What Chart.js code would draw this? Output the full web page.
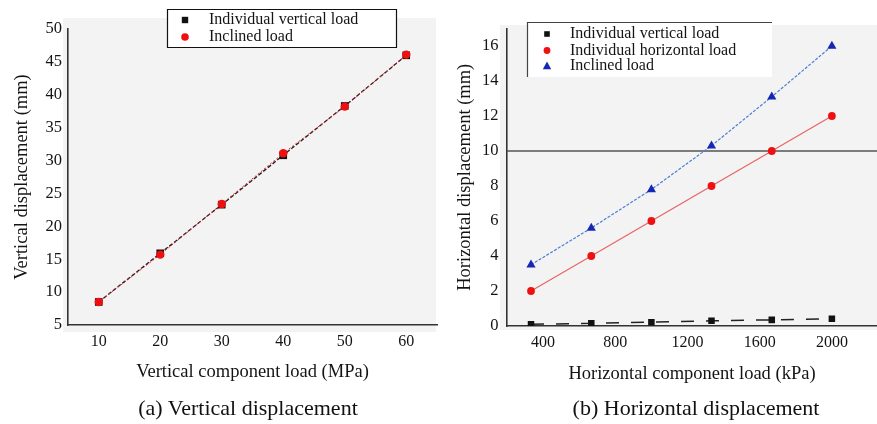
<!DOCTYPE html>
<html>
<head>
<meta charset="utf-8">
<script src="https://cdn.jsdelivr.net/npm/chart.js@4.4.1/dist/chart.umd.min.js"></script>
<style>
  html, body { margin: 0; padding: 0; background: #fff; }
  #wrap { position: relative; width: 877px; height: 424px; overflow: hidden; font-family: 'Liberation Serif', 'Times New Roman', serif; }
  canvas { position: absolute; top: 0; }
  #cA { left: 0; }
  #cB { left: 440px; }
  .cap { position: absolute; top: 395px; width: 300px; line-height: 26px; font-size: 22px; color: #111; text-align: center; white-space: nowrap; }
</style>
</head>
<body>
<div id="wrap">
  <canvas id="cA" width="440" height="424"></canvas>
  <canvas id="cB" width="437" height="424"></canvas>
  <div class="cap" style="left:98px">(a) Vertical displacement</div>
  <div class="cap" style="left:546px">(b) Horizontal displacement</div>
</div>
<script>
// ---- (a) vertical displacement vs vertical component load ----
const loadA        = [10, 20, 30, 40, 50, 60];            // MPa
const vertOnlyA    = [8.5, 15.9, 23.3, 30.8, 38.3, 46.0]; // mm
const inclinedA    = [8.5, 15.7, 23.4, 31.1, 38.2, 46.1]; // mm
const xTicksA      = [10, 20, 30, 40, 50, 60];
const yTicksA      = [5, 10, 15, 20, 25, 30, 35, 40, 45, 50];

// ---- (b) horizontal displacement vs horizontal component load ----
const loadB        = [333, 667, 1000, 1333, 1667, 2000];  // kPa
const vertOnlyB    = [0.10, 0.15, 0.22, 0.30, 0.35, 0.42]; // mm
const horizOnlyB   = [2, 4, 6, 8, 10, 12];                 // mm
const inclinedB    = [3.5, 5.6, 7.8, 10.3, 13.1, 16.0];    // mm
const xTicksB      = [400, 800, 1200, 1600, 2000];
const yTicksB      = [0, 2, 4, 6, 8, 10, 12, 14, 16];
const refLevelB    = 10;                                   // mm, horizontal guide
const xRangeB      = [200, 2250];

const FONT = "'Liberation Serif', 'Times New Roman', serif";
const INK = '#141414';

const pts = (xs, ys) => xs.map((x, i) => ({ x: x, y: ys[i] }));

// light panel behind each plot
const panelBg = {
  id: 'panelBg',
  beforeDraw(chart, args, o) {
    const ctx = chart.ctx;
    ctx.save();
    ctx.fillStyle = o.color;
    ctx.fillRect(o.x0, o.y0, o.x1 - o.x0, o.y1 - o.y0);
    ctx.restore();
  }
};

// boxed legend drawn inside the plot
function marker(ctx, style, color, x, y, r) {
  ctx.fillStyle = color;
  ctx.beginPath();
  if (style === 'rect') {
    ctx.rect(x - r, y - r, 2 * r, 2 * r);
  } else if (style === 'circle') {
    ctx.arc(x, y, r, 0, Math.PI * 2);
  } else if (style === 'triangle') {
    ctx.moveTo(x, y - r * 1.1);
    ctx.lineTo(x + r, y + r * 0.75);
    ctx.lineTo(x - r, y + r * 0.75);
    ctx.closePath();
  }
  ctx.fill();
}
const boxLegend = {
  id: 'boxLegend',
  afterDraw(chart, args, o) {
    const ctx = chart.ctx;
    ctx.save();
    ctx.fillStyle = '#fff';
    ctx.fillRect(o.x, o.y, o.w, o.h);
    ctx.strokeStyle = o.lineColor;
    ctx.lineWidth = 1.2;
    ctx.beginPath();
    if (o.sides === 'all') {
      ctx.rect(o.x + 0.5, o.y + 0.5, o.w, o.h);
    } else {
      ctx.moveTo(o.x + 0.5, o.y + o.h);
      ctx.lineTo(o.x + 0.5, o.y + 0.5);
      ctx.lineTo(o.x + o.w, o.y + 0.5);
    }
    ctx.stroke();
    const items = chart.data.datasets.filter(d => d.label);
    items.sort((a, b) => a.legendIndex - b.legendIndex);
    ctx.font = o.fontSize + 'px ' + FONT;
    ctx.textBaseline = 'middle';
    ctx.textAlign = 'left';
    items.forEach((d, i) => {
      const y = o.rows[i];
      marker(ctx, d.pointStyle, d.pointBackgroundColor, o.markerX, y, o.markerR[d.pointStyle]);
      ctx.fillStyle = INK;
      ctx.fillText(d.label, o.textX, y);
    });
    ctx.restore();
  }
};

function axisX(min, max, ticks, title, height, titlePad) {
  return {
    type: 'linear', min: min, max: max,
    afterBuildTicks: s => { s.ticks = ticks.map(v => ({ value: v })); },
    afterFit: s => { s.height = height; s.paddingLeft = 0; s.paddingRight = 0; },
    grid: { display: false, drawTicks: false },
    border: { display: true, color: '#333', width: 1.6 },
    ticks: { padding: 7, color: INK, font: { family: FONT, size: 16 }, maxRotation: 0, autoSkip: false,
             callback: v => String(v) },
    title: { display: true, text: title, color: INK, font: { family: FONT, size: 18.5 }, padding: { top: 0, bottom: titlePad } }
  };
}
function axisY(min, max, ticks, title, width, tickPad, titlePad) {
  return {
    type: 'linear', min: min, max: max,
    afterBuildTicks: s => { s.ticks = ticks.map(v => ({ value: v })); },
    afterFit: s => { s.width = width; },
    grid: { display: false, drawTicks: false },
    border: { display: true, color: '#333', width: 1.6 },
    ticks: { padding: tickPad, color: INK, font: { family: FONT, size: 16.5 }, autoSkip: false,
             callback: v => String(v) },
    title: { display: true, text: title, color: INK, font: { family: FONT, size: 18.5 }, padding: { top: titlePad, bottom: 0 } }
  };
}

const common = {
  responsive: false,
  animation: false,
  events: [],
};

new Chart(document.getElementById('cA'), {
  type: 'line',
  data: {
    datasets: [
      {
        label: 'Individual vertical load', legendIndex: 0, order: 2,
        data: pts(loadA, vertOnlyA),
        borderColor: '#2a1a1a', borderWidth: 1.3, borderDash: [4, 2],
        pointStyle: 'rect', pointRadius: 5.4, pointBackgroundColor: '#111', pointBorderWidth: 0,
        tension: 0
      },
      {
        label: 'Inclined load', legendIndex: 1, order: 1,
        data: pts(loadA, inclinedA),
        borderColor: '#d8283a', borderWidth: 1, borderDash: [2, 2],
        pointStyle: 'circle', pointRadius: 4.2, pointBackgroundColor: '#ee1010', pointBorderWidth: 0,
        tension: 0
      }
    ]
  },
  options: Object.assign({}, common, {
    layout: { autoPadding: false, padding: { left: 0, right: 3, top: 29, bottom: 0 } },
    scales: {
      x: axisX(5, 65, xTicksA, 'Vertical component load (MPa)', 99, 41),
      y: axisY(5, 50, yTicksA, 'Vertical displacement (mm)', 68, 6, 11)
    },
    plugins: {
      legend: { display: false },
      tooltip: { enabled: false },
      panelBg: { color: '#f4f3f3', x0: 63, y0: 18, x1: 436, y1: 332 },
      boxLegend: {
        x: 167, y: 9, w: 229, h: 38, sides: 'all', lineColor: '#111',
        markerX: 185, textX: 209, rows: [20, 37], fontSize: 16,
        markerR: { rect: 3.2, circle: 3.8, triangle: 4.5 }
      }
    }
  }),
  plugins: [panelBg, boxLegend]
});

new Chart(document.getElementById('cB'), {
  type: 'line',
  data: {
    datasets: [
      {
        label: 'Individual vertical load', legendIndex: 0, order: 3,
        data: pts(loadB, vertOnlyB),
        borderColor: '#222', borderWidth: 1.5, borderDash: [13, 12],
        pointStyle: 'rect', pointRadius: 4.6, pointBackgroundColor: '#111', pointBorderWidth: 0,
        tension: 0
      },
      {
        label: 'Individual horizontal load', legendIndex: 1, order: 2,
        data: pts(loadB, horizOnlyB),
        borderColor: '#e86464', borderWidth: 1.2,
        pointStyle: 'circle', pointRadius: 3.9, pointBackgroundColor: '#ee1111', pointBorderWidth: 0,
        tension: 0
      },
      {
        label: 'Inclined load', legendIndex: 2, order: 1,
        data: pts(loadB, inclinedB),
        borderColor: '#4a7ed4', borderWidth: 1.2, borderDash: [3, 1.5],
        pointStyle: 'triangle', pointRadius: 5.3, pointBackgroundColor: '#1428b4', pointBorderWidth: 0,
        tension: 0
      },
      {
        // guide line at the 10 mm level
        data: pts(xRangeB, [refLevelB, refLevelB]), order: 4,
        borderColor: '#555', borderWidth: 1.5, pointRadius: 0, tension: 0
      }
    ]
  },
  options: Object.assign({}, common, {
    layout: { autoPadding: false, padding: { left: 0, right: 0, top: 28.5, bottom: 0 } },
    scales: {
      x: axisX(xRangeB[0], xRangeB[1], xTicksB, 'Horizontal component load (kPa)', 98, 39),
      y: axisY(0, 17, yTicksB, 'Horizontal displacement (mm)', 67, 8.5, 14)
    },
    plugins: {
      legend: { display: false },
      tooltip: { enabled: false },
      panelBg: { color: '#f4f3f3', x0: 60, y0: 25, x1: 437, y1: 330 },
      boxLegend: {
        x: 87, y: 22, w: 245, h: 55, sides: 'tl', lineColor: '#444',
        markerX: 107, textX: 130, rows: [34, 50.5, 66], fontSize: 16,
        markerR: { rect: 2.8, circle: 3.4, triangle: 4.2 }
      }
    }
  }),
  plugins: [panelBg, boxLegend]
});
</script>
</body>
</html>
